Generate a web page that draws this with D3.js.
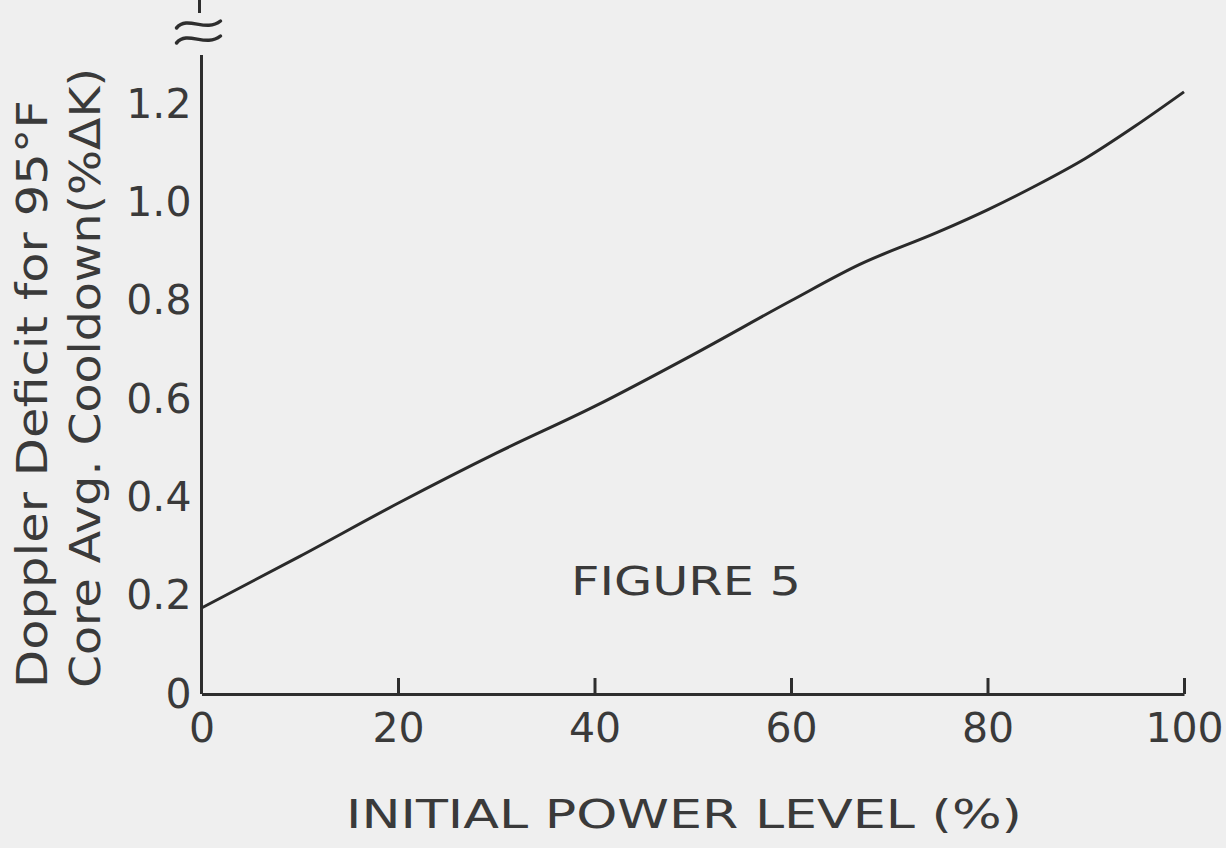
<!DOCTYPE html>
<html>
<head>
<meta charset="utf-8">
<script src="https://cdn.jsdelivr.net/npm/d3@7"></script>
<style>
    html, body { margin: 0; padding: 0; background: #efefef; }
    #chart { width: 1226px; height: 848px; }
    text { font-family: "DejaVu Sans", sans-serif; fill: #3a3a3a; }
    .axis path, .axis line { stroke: #2e2e2e; stroke-width: 3; }
    .axis text { font-size: 41px; fill: #3a3a3a; }
</style>
</head>
<body>
<div id="chart"></div>
<script>
(function () {

    // initial power level (%) vs doppler deficit (%dK)
    var powerLevels = [0, 10, 20, 30, 40, 50, 60, 67, 75, 80, 85, 90, 95, 100];
    var dopplerDeficit = [0.175, 0.28, 0.388, 0.49, 0.585, 0.69, 0.80, 0.874, 0.94, 0.985, 1.035, 1.09, 1.155, 1.225];

    var xTicks = [0, 20, 40, 60, 80, 100];
    var yTicks = [0, 0.2, 0.4, 0.6, 0.8, 1.0, 1.2];

    var yTitle1 = "Doppler Deficit for 95°F";
    var yTitle2 = "Core Avg. Cooldown(%ΔK)";
    var xTitle = "INITIAL POWER LEVEL (%)";
    var figLabel = "FIGURE 5";

    var width = 1226;
    var height = 848;

    var svg = d3.select("#chart")
        .append("svg")
        .attr("width", width)
        .attr("height", height);

    // scales
    var x = d3.scaleLinear()
        .domain([0, 100])
        .range([201.5, 1184]);

    var y = d3.scaleLinear()
        .domain([0, 1.3])
        .range([694, 55]);

    // x axis, ticks point up into the plot
    var xAxis = svg.append("g")
        .attr("class", "axis x")
        .attr("transform", "translate(0," + y(0) + ")")
        .call(d3.axisBottom(x)
            .tickValues(xTicks)
            .tickSizeInner(-16)
            .tickSizeOuter(0)
            .tickPadding(18)
            .tickFormat(d3.format("d")));
    xAxis.selectAll("text").attr("dy", "0.72em");
    xAxis.selectAll(".tick").filter(function (d) { return d === 0; }).select("line").remove();

    // y axis, no tick marks
    var yAxis = svg.append("g")
        .attr("class", "axis y")
        .attr("transform", "translate(" + x(0) + ",0)")
        .call(d3.axisLeft(y)
            .tickValues(yTicks)
            .tickSize(0)
            .tickPadding(10)
            .tickFormat(function (d) { return d === 0 ? "0" : d3.format(".1f")(d); }));
    yAxis.select(".domain").attr("d", "M0," + y(0) + "V" + y(1.3));

    // axis break symbol at the top of y axis
    var ax = x(0) - 2;
    svg.append("line")
        .attr("x1", ax).attr("x2", ax)
        .attr("y1", 0).attr("y2", 13)
        .attr("stroke", "#2e2e2e")
        .attr("stroke-width", 3);

    [24, 39].forEach(function (cy) {
        svg.append("path")
            .attr("d", "M" + (ax - 23) + "," + (cy + 4) +
                " C" + (ax - 12) + "," + (cy - 9) + " " + (ax + 6) + "," + (cy + 9) + " " + (ax + 21) + "," + (cy - 3))
            .attr("fill", "none")
            .attr("stroke", "#2e2e2e")
            .attr("stroke-width", 3.5)
            .attr("stroke-linecap", "round");
    });

    // the curve
    var line = d3.line()
        .x(function (d, i) { return x(powerLevels[i]); })
        .y(function (d) { return y(d); })
        .curve(d3.curveMonotoneX);

    svg.append("path")
        .datum(dopplerDeficit)
        .attr("d", line)
        .attr("fill", "none")
        .attr("stroke", "#2a2a2a")
        .attr("stroke-width", 3);

    // y titles (rotated, two lines)
    svg.append("text")
        .attr("transform", "translate(47,688) rotate(-90)")
        .attr("font-size", 42)
        .attr("textLength", 588)
        .attr("lengthAdjust", "spacingAndGlyphs")
        .text(yTitle1);

    svg.append("text")
        .attr("transform", "translate(100,688) rotate(-90)")
        .attr("font-size", 42)
        .attr("textLength", 620)
        .attr("lengthAdjust", "spacingAndGlyphs")
        .text(yTitle2);

    // figure caption inside the plot
    svg.append("text")
        .attr("x", 571)
        .attr("y", 595)
        .attr("font-size", 39)
        .attr("textLength", 230)
        .attr("lengthAdjust", "spacingAndGlyphs")
        .text(figLabel);

    // x title
    svg.append("text")
        .attr("x", 346)
        .attr("y", 828)
        .attr("font-size", 39)
        .attr("textLength", 676)
        .attr("lengthAdjust", "spacingAndGlyphs")
        .text(xTitle);

})();
</script>
</body>
</html>
